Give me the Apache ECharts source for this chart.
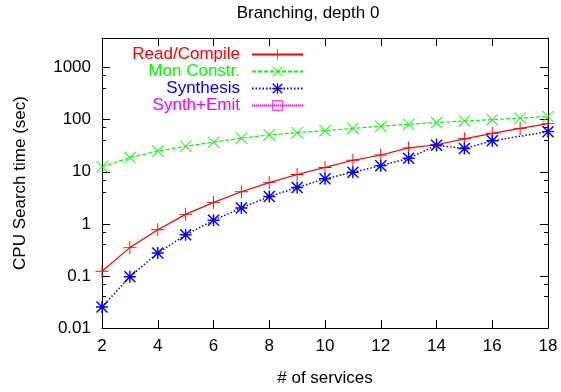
<!DOCTYPE html>
<html>
<head>
<meta charset="utf-8">
<script src="https://cdn.jsdelivr.net/npm/echarts@6/dist/echarts.min.js"></script>
<style>
  html, body { margin: 0; padding: 0; background: #fff; }
  #chart { width: 561px; height: 392px; }
</style>
</head>
<body>
<div id="chart"></div>
<script>
// Number of services on the x axis
const services = [2, 3, 4, 5, 6, 7, 8, 9, 10, 11, 12, 13, 14, 15, 16, 17, 18];

// CPU search time in seconds for each phase
const readCompile = [0.123, 0.35, 0.77, 1.52, 2.58, 4.14, 6.18, 8.87, 12.1, 16.6, 21, 28.7, 33, 42.9, 54.7, 68, 84];
const monConstr   = [12.5, 18.7, 24.9, 30.9, 37, 44.2, 50.9, 56.4, 61.5, 68, 75, 81.7, 87.9, 94.5, 100, 107, 115];
const synthesis   = [0.0254, 0.0966, 0.275, 0.615, 1.17, 2.02, 3.34, 4.98, 7.33, 9.8, 13.1, 18.1, 32.2, 27.9, 39.3, null, 58.9];
const synthEmit   = [];

const seriesNames = ['Read/Compile', 'Mon Constr.', 'Synthesis', 'Synth+Emit'];
const seriesColors = ['#ff0000', '#00ff00', '#0000ff', '#ff00ff'];

const xTicks = { min: 2, max: 18, step: 2 };
const yRange = { min: 0.01, max: 3700 };

// Point markers drawn as thin filled outlines
const PLUS = 'path://M9.3,0h1.4v20h-1.4z M0,9.3h20v1.4h-20z';
const CROSS = 'path://M0,1L1,0L20,19L19,20z M19,0L20,1L1,20L0,19z';
const STAR = 'path://M8.8,0h2.4v20h-2.4z M0,8.8h20v2.4h-20z M0,1.7L1.7,0L20,18.3L18.3,20z M18.3,0L20,1.7L1.7,20L0,18.3z';
const BOX = 'path://M0,0h20v20h-20z M1.6,1.6v16.8h16.8v-16.8z';

const FONT = 'Liberation Sans, Arial, Helvetica, sans-serif';
const FS = 17;

function pairs(values) {
  return services.map((s, i) => [s, values[i] === undefined ? null : values[i]]);
}

function logLabel(v) {
  const l = Math.log10(v);
  if (Math.abs(l - Math.round(l)) > 1e-6) return '';
  return String(+v.toPrecision(6));
}

const chart = echarts.init(document.getElementById('chart'), null, { renderer: 'canvas' });

const baseAxisLine = { show: true, lineStyle: { color: '#000', width: 1 } };

chart.setOption({
  animation: false,
  backgroundColor: '#fff',
  title: {
    text: 'Branching, depth 0',
    left: 303,
    top: 0,
    textAlign: 'center',
    textStyle: { fontFamily: FONT, fontSize: FS, fontWeight: 'normal', color: '#000' }
  },
  grid: { left: 102, right: 13, top: 38, bottom: 57, containLabel: false },
  legend: {
    orient: 'vertical',
    align: 'right',
    right: 257,
    top: 46,
    padding: 0,
    itemWidth: 51,
    itemHeight: 13,
    itemGap: 0,
    selectedMode: false,
    textStyle: { fontFamily: FONT, fontSize: FS, lineHeight: 17, padding: [0, 7, 0, 0] },
    data: seriesNames.map((n, i) => ({ name: n, textStyle: { color: seriesColors[i] } }))
  },
  xAxis: [
    {
      type: 'value',
      min: xTicks.min, max: xTicks.max, interval: xTicks.step,
      name: '# of services',
      nameLocation: 'middle',
      nameGap: 42,
      nameTextStyle: { fontFamily: FONT, fontSize: FS, color: '#000' },
      axisLine: baseAxisLine,
      axisTick: { show: true, inside: true, length: 8, lineStyle: { color: '#000' } },
      axisLabel: { fontFamily: FONT, fontSize: FS, color: '#000', margin: 10 },
      splitLine: { show: false }
    },
    {
      type: 'value', position: 'top',
      min: xTicks.min, max: xTicks.max, interval: xTicks.step,
      axisLine: baseAxisLine,
      axisTick: { show: true, inside: true, length: 8, lineStyle: { color: '#000' } },
      axisLabel: { show: false },
      splitLine: { show: false }
    }
  ],
  yAxis: [
    {
      type: 'log', logBase: 10,
      min: yRange.min, max: yRange.max,
      name: 'CPU Search time (sec)',
      nameLocation: 'middle',
      nameGap: 73,
      nameRotate: 90,
      nameTextStyle: { fontFamily: FONT, fontSize: FS, color: '#000' },
      axisLine: baseAxisLine,
      axisTick: { show: true, inside: true, length: 8, lineStyle: { color: '#000' } },
      minorTick: { show: true, splitNumber: 3, length: 4, lineStyle: { color: '#000' } },
      axisLabel: { fontFamily: FONT, fontSize: FS, color: '#000', margin: 11, formatter: logLabel, showMaxLabel: false },
      splitLine: { show: false }
    },
    {
      type: 'log', logBase: 10, position: 'right',
      min: yRange.min, max: yRange.max,
      axisLine: baseAxisLine,
      axisTick: { show: true, inside: true, length: 8, lineStyle: { color: '#000' } },
      minorTick: { show: true, splitNumber: 3, length: 4, lineStyle: { color: '#000' } },
      axisLabel: { show: false },
      splitLine: { show: false }
    }
  ],
  series: [
    {
      name: seriesNames[0], type: 'line', data: pairs(readCompile),
      symbol: PLUS, symbolSize: 13,
      lineStyle: { color: seriesColors[0], width: 1.2, type: 'solid' },
      itemStyle: { color: seriesColors[0] },
      emphasis: { disabled: true }, silent: true, z: 3
    },
    {
      name: seriesNames[1], type: 'line', data: pairs(monConstr),
      symbol: CROSS, symbolSize: 12,
      lineStyle: { color: seriesColors[1], width: 1.2, type: [4, 2] },
      itemStyle: { color: seriesColors[1] },
      emphasis: { disabled: true }, silent: true, z: 2
    },
    {
      name: seriesNames[2], type: 'line', data: pairs(synthesis), connectNulls: true,
      symbol: STAR, symbolSize: 12,
      lineStyle: { color: seriesColors[2], width: 1.5, type: [1.5, 2] },
      itemStyle: { color: seriesColors[2] },
      emphasis: { disabled: true }, silent: true, z: 4
    },
    {
      name: seriesNames[3], type: 'line', data: synthEmit,
      symbol: BOX, symbolSize: 10,
      lineStyle: { color: seriesColors[3], width: 1, type: [1, 1] },
      itemStyle: { color: seriesColors[3] },
      emphasis: { disabled: true }, silent: true, z: 1
    }
  ]
});
</script>
</body>
</html>
